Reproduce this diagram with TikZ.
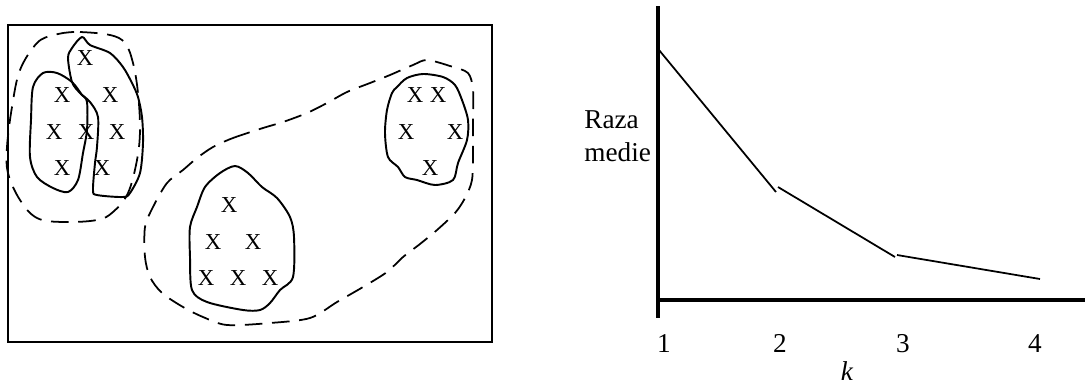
\documentclass[tikz,border=0pt]{standalone}
\usepackage{fontspec}
\setmainfont{Liberation Serif}
\newcommand{\ptfont}{\fontsize{13}{13}\selectfont}
\newcommand{\lblfont}{\fontsize{15.5}{17}\selectfont}
\begin{document}
\begin{tikzpicture}[x=0.02cm,y=-0.02cm,
  pt/.style={inner sep=0pt},
  lbl/.style={inner sep=0pt},
  solidc/.style={line width=1.1pt, line join=round},
  dashc/.style={line width=1pt, dash pattern=on 10pt off 5.5pt},
  axis/.style={line width=2pt},
  curve/.style={line width=1pt}]
\useasboundingbox (0,0) rectangle (1085,387);
% frame
\draw[line width=0.7pt] (8,25) rectangle (492,342);
% left dashed
\draw[dashc] plot[smooth cycle, tension=0.6] coordinates {(63,33) (80,32) (110,35) (125,43) (133,63) (138,93) (140,130) (137,160) (128,193) (113,212) (97,220) (63,222) (37,218) (20,200) (8,173) (7,147) (12,107) (20,70) (37,43) (53,35)};
% left inner clusters
\draw[solidc] plot[smooth cycle, tension=0.5] coordinates {(43,73) (57,73) (72,82) (82,95) (87,102) (87,130) (83,153) (78,180) (68,192) (53,188) (37,177) (30,157) (31,120) (33,87)};
\draw[solidc] plot[smooth cycle, tension=0.5] coordinates {(82,37) (90,45) (110,53) (123,67) (132,83) (138,97) (142,117) (143,143) (140,173) (130,193) (123,197) (97,195) (93,190) (95,163) (97,147) (98,117) (90,102) (80,93) (72,82) (68,58) (72,48)};
% middle dashed
\draw[dashc] plot[smooth cycle, tension=0.5] coordinates {(213,147) (233,138) (263,128) (283,122) (307,113) (327,103) (347,92) (370,83) (390,75) (413,65) (427,60) (450,66) (468,73) (473,90) (473,120) (473,150) (472,180) (465,198) (455,213) (437,230) (420,244) (403,257) (387,272) (363,287) (337,302) (310,318) (270,323) (227,325) (203,317) (183,307) (162,293) (150,277) (145,257) (145,227) (153,207) (167,183) (183,170) (197,158)};
% right small cluster
\draw[solidc] plot[smooth cycle, tension=0.5] coordinates {(397,87) (407,78) (423,74) (443,77) (455,85) (462,100) (468,120) (467,140) (458,163) (453,180) (435,185) (417,180) (405,177) (398,167) (388,157) (385,133) (387,110) (392,93)};
% bottom middle cluster
\draw[solidc] plot[smooth cycle, tension=0.5] coordinates {(235,166) (220,173) (205,187) (197,207) (190,227) (190,257) (192,290) (207,302) (243,310) (260,310) (270,303) (280,290) (293,277) (294,237) (290,217) (277,198) (262,187) (248,173)};
% points
\node[pt] (a1) at (85,58) {\ptfont X};
\node[pt] (a2) at (62,95) {\ptfont X};
\node[pt] (a3) at (110,95) {\ptfont X};
\node[pt] (a4) at (54,132) {\ptfont X};
\node[pt] (a5) at (86,132) {\ptfont X};
\node[pt] (a6) at (117,132) {\ptfont X};
\node[pt] (a7) at (62,168) {\ptfont X};
\node[pt] (a8) at (102,168) {\ptfont X};
\node[pt] (b1) at (229,205) {\ptfont X};
\node[pt] (b2) at (213,242) {\ptfont X};
\node[pt] (b3) at (253,242) {\ptfont X};
\node[pt] (b4) at (206,278) {\ptfont X};
\node[pt] (b5) at (238,278) {\ptfont X};
\node[pt] (b6) at (270,278) {\ptfont X};
\node[pt] (c1) at (415,95) {\ptfont X};
\node[pt] (c2) at (438,95) {\ptfont X};
\node[pt] (c3) at (406,132) {\ptfont X};
\node[pt] (c4) at (455,132) {\ptfont X};
\node[pt] (c5) at (430,168) {\ptfont X};
% chart
\coordinate (ytop) at (658,6);
\coordinate (ybot) at (658,318);
\coordinate (xl) at (658,300);
\coordinate (xr) at (1085,300);
\draw[axis] (ytop) -- (ybot);
\draw[axis] (xl) -- (xr);
\coordinate (p1) at (659,50);
\coordinate (p2a) at (776,192);
\coordinate (p2b) at (778,187);
\coordinate (p3a) at (895,257);
\coordinate (p3b) at (897,255);
\coordinate (p4) at (1040,279);
\draw[curve] (p1) -- (p2a);
\draw[curve] (p2b) -- (p3a);
\draw[curve] (p3b) -- (p4);
\node[lbl, anchor=base west] (ylab1) at (584,128) {\lblfont Raza};
\node[lbl, anchor=base west] (ylab2) at (584,161) {\lblfont medie};
\node[lbl, anchor=base] (t1) at (664,352) {\lblfont 1};
\node[lbl, anchor=base] (t2) at (780,352) {\lblfont 2};
\node[lbl, anchor=base] (t3) at (903,352) {\lblfont 3};
\node[lbl, anchor=base] (t4) at (1035,352) {\lblfont 4};
\node[lbl, anchor=base] (k) at (847,380) {\lblfont\itshape k};
\end{tikzpicture}
\end{document}
